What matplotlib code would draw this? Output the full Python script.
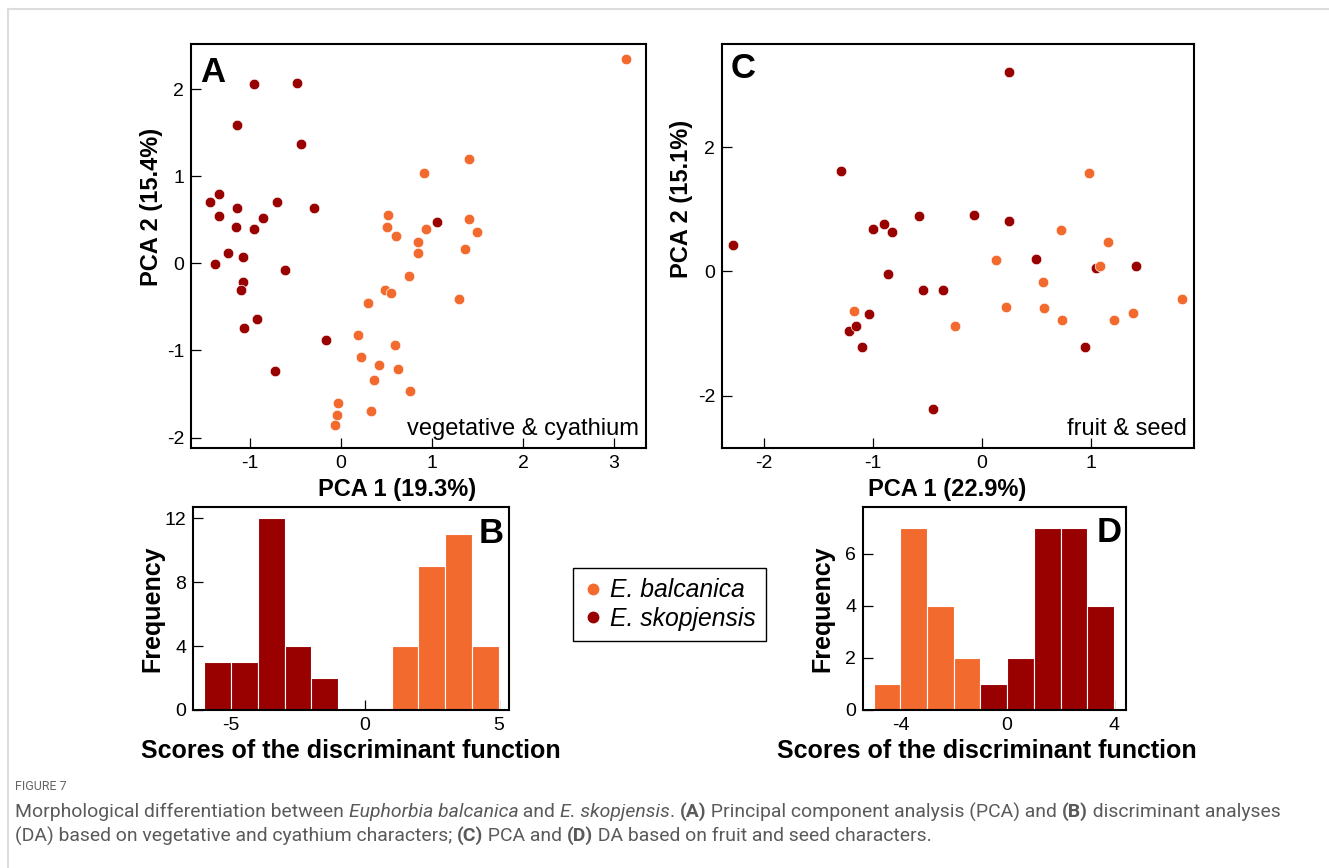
import matplotlib
matplotlib.use('Agg')
import matplotlib.pyplot as plt
from matplotlib.lines import Line2D

plt.rcParams['font.family'] = ['Liberation Sans', 'DejaVu Sans']
plt.rcParams['axes.unicode_minus'] = False

ORANGE = '#F26A2E'
DARKRED = '#990000'

# ---------------- Panel A: PCA vegetative & cyathium ----------------
a_sko_x = [-0.96, -0.48, -1.15, -0.44, -1.44, -1.34, -1.34, -1.15, -0.71, -0.30,
           -1.16, -0.96, -0.86, 1.05, -1.24, -1.08, -1.39, -0.62, -1.08, -1.10,
           -0.93, -1.07, -0.17, -0.73]
a_sko_y = [2.06, 2.07, 1.59, 1.37, 0.71, 0.80, 0.54, 0.64, 0.70, 0.64,
           0.42, 0.39, 0.52, 0.48, 0.12, 0.07, -0.01, -0.07, -0.21, -0.31,
           -0.64, -0.74, -0.88, -1.23]
a_bal_x = [3.13, 1.41, 0.91, 0.51, 0.50, 0.93, 0.60, 0.84, 0.84, 1.41,
           1.49, 1.36, 0.75, 0.48, 0.55, 0.30, 1.30, 0.19, 0.59, 0.22,
           0.42, 0.63, 0.36, 0.76, -0.04, -0.05, 0.33, -0.07]
a_bal_y = [2.35, 1.20, 1.04, 0.56, 0.42, 0.40, 0.31, 0.25, 0.12, 0.51,
           0.36, 0.16, -0.14, -0.30, -0.34, -0.45, -0.41, -0.82, -0.94, -1.08,
           -1.17, -1.21, -1.34, -1.46, -1.60, -1.74, -1.70, -1.86]

# ---------------- Panel C: PCA fruit & seed ----------------
c_sko_x = [0.25, -1.29, -2.28, -1.00, -0.90, -0.82, -0.58, -0.07, 0.25, -0.86,
           0.49, 1.04, 1.41, -0.54, -0.36, -1.03, -1.22, -1.15, -1.10, 0.94, -0.45]
c_sko_y = [3.21, 1.62, 0.43, 0.69, 0.76, 0.63, 0.90, 0.91, 0.82, -0.04,
           0.20, 0.05, 0.09, -0.29, -0.29, -0.69, -0.95, -0.88, -1.21, -1.22, -2.22]
c_bal_x = [0.98, 0.72, 1.15, 0.13, 1.08, 0.56, 0.22, 0.57, 0.73, 1.21,
           1.38, 1.83, -1.17, -0.25]
c_bal_y = [1.58, 0.67, 0.48, 0.18, 0.09, -0.17, -0.57, -0.58, -0.78, -0.78,
           -0.66, -0.45, -0.64, -0.88]

# ---------------- Panel B: DA histogram vegetative & cyathium ----------------
b_sko_edges = [-6, -5, -4, -3, -2]
b_sko_counts = [3, 3, 12, 4, 2]
b_bal_edges = [1, 2, 3, 4]
b_bal_counts = [4, 9, 11, 4]

# ---------------- Panel D: DA histogram fruit & seed ----------------
d_bal_edges = [-5, -4, -3, -2]
d_bal_counts = [1, 7, 4, 2]
d_sko_edges = [-1, 0, 1, 2, 3]
d_sko_counts = [1, 2, 7, 7, 4]

labels = ['E. balcanica', 'E. skopjensis']

W, H = 1329, 868
fig = plt.figure(figsize=(W / 100, H / 100), dpi=100)


def box(l, r, t, b):
    return [l / W, 1 - b / H, (r - l) / W, (b - t) / H]


TICK_FS = 14
LAB_FS = 17
LET_FS = 25


def style(ax):
    for s in ax.spines.values():
        s.set_linewidth(1.5)
    ax.tick_params(direction='in', length=7, width=0.9, labelsize=TICK_FS, pad=5,
                   top=False, right=False)


# Panel A
axA = fig.add_axes(box(191, 646, 44, 448))
axA.scatter(a_sko_x, a_sko_y, s=58, color=DARKRED, edgecolors='white', linewidths=0.5, zorder=3)
axA.scatter(a_bal_x, a_bal_y, s=58, color=ORANGE, edgecolors='white', linewidths=0.5, zorder=3)
axA.set_xlim(-1.65, 3.35)
axA.set_ylim(-2.12, 2.52)
axA.set_xticks([-1, 0, 1, 2, 3])
axA.set_yticks([-2, -1, 0, 1, 2])
style(axA)
axA.set_xlabel('PCA 1 (19.3%)', fontsize=LAB_FS, fontweight='bold')
axA.xaxis.set_label_coords(0.452, -0.074)
axA.set_ylabel('PCA 2 (15.4%)', fontsize=LAB_FS, fontweight='bold')
axA.yaxis.set_label_coords(-0.061, 0.597)
axA.text(0.02, 0.907, 'A', transform=axA.transAxes, fontsize=LET_FS, fontweight='bold',
         ha='left', va='baseline')
axA.text(0.985, 0.032, 'vegetative & cyathium', transform=axA.transAxes, fontsize=17,
         ha='right', va='baseline')

# Panel C
axC = fig.add_axes(box(722, 1194, 44, 448))
axC.scatter(c_sko_x, c_sko_y, s=58, color=DARKRED, edgecolors='white', linewidths=0.5, zorder=3)
axC.scatter(c_bal_x, c_bal_y, s=58, color=ORANGE, edgecolors='white', linewidths=0.5, zorder=3)
axC.set_xlim(-2.38, 1.94)
axC.set_ylim(-2.84, 3.66)
axC.set_xticks([-2, -1, 0, 1])
axC.set_yticks([-2, 0, 2])
style(axC)
axC.set_xlabel('PCA 1 (22.9%)', fontsize=LAB_FS, fontweight='bold')
axC.xaxis.set_label_coords(0.476, -0.074)
axC.set_ylabel('PCA 2 (15.1%)', fontsize=LAB_FS, fontweight='bold')
axC.yaxis.set_label_coords(-0.061, 0.616)
axC.text(0.018, 0.915, 'C', transform=axC.transAxes, fontsize=LET_FS, fontweight='bold',
         ha='left', va='baseline')
axC.text(0.985, 0.032, 'fruit & seed', transform=axC.transAxes, fontsize=17,
         ha='right', va='baseline')

# Panel B
axB = fig.add_axes(box(193, 509, 507, 710))
axB.bar(b_sko_edges, b_sko_counts, width=1, align='edge', color=DARKRED,
        edgecolor='white', linewidth=0.8)
axB.bar(b_bal_edges, b_bal_counts, width=1, align='edge', color=ORANGE,
        edgecolor='white', linewidth=0.8)
axB.set_xlim(-6.42, 5.38)
axB.set_ylim(0, 12.7)
axB.set_xticks([-5, 0, 5])
axB.set_yticks([0, 4, 8, 12])
axB.set_axisbelow(True)
style(axB)
axB.set_xlabel('Scores of the discriminant function', fontsize=18, fontweight='bold')
axB.xaxis.set_label_coords(0.5, -0.142)
axB.set_ylabel('Frequency', fontsize=18, fontweight='bold')
axB.yaxis.set_label_coords(-0.092, 0.5)
axB.text(0.982, 0.824, 'B', transform=axB.transAxes, fontsize=LET_FS, fontweight='bold',
         ha='right', va='baseline')

# Panel D
axD = fig.add_axes(box(863, 1126, 507, 710))
axD.bar(d_bal_edges, d_bal_counts, width=1, align='edge', color=ORANGE,
        edgecolor='white', linewidth=0.8)
axD.bar(d_sko_edges, d_sko_counts, width=1, align='edge', color=DARKRED,
        edgecolor='white', linewidth=0.8)
axD.set_xlim(-5.4, 4.45)
axD.set_ylim(0, 7.8)
axD.set_xticks([-4, 0, 4])
axD.set_yticks([0, 2, 4, 6])
axD.set_axisbelow(True)
style(axD)
axD.set_xlabel('Scores of the discriminant function', fontsize=18, fontweight='bold')
axD.xaxis.set_label_coords(0.47, -0.145)
axD.set_ylabel('Frequency', fontsize=18, fontweight='bold')
axD.yaxis.set_label_coords(-0.110, 0.5)
axD.text(0.984, 0.826, 'D', transform=axD.transAxes, fontsize=LET_FS, fontweight='bold',
         ha='right', va='baseline')

# Legend
handles = [Line2D([], [], marker='o', ls='', color=ORANGE, markersize=7.5),
           Line2D([], [], marker='o', ls='', color=DARKRED, markersize=7.5)]
leg = fig.legend(handles, labels, loc='upper left', bbox_to_anchor=(573 / W, 1 - 568 / H),
                 frameon=True, fancybox=False, edgecolor='black', framealpha=1,
                 prop={'style': 'italic', 'size': 17.8}, borderaxespad=0,
                 handletextpad=0.28, handlelength=0.8, labelspacing=0.18, borderpad=0.42)
leg.get_frame().set_linewidth(1.0)

# Page frame lines
fig.add_artist(Line2D([7.7 / W, 1], [1 - 9 / H, 1 - 9 / H], transform=fig.transFigure,
                      color='#dddddd', lw=1.5))
fig.add_artist(Line2D([7.7 / W, 7.7 / W], [1 - 9 / H, 0], transform=fig.transFigure,
                      color='#dddddd', lw=1.5))

# Caption
CAP_FAM = ['Liberation Sans Narrow', 'Roboto', 'DejaVu Sans']
CAP_COL = '#5a5a5a'
fig.text(15 / W, 1 - 787 / H, 'FIGURE 7', fontsize=9, color='#666666', va='center',
         family=CAP_FAM)

line1 = [('Morphological differentiation between ', 'normal', 'normal'),
         ('Euphorbia balcanica', 'italic', 'normal'),
         (' and ', 'normal', 'normal'),
         ('E. skopjensis', 'italic', 'normal'),
         ('. ', 'normal', 'normal'),
         ('(A)', 'normal', 'bold'),
         (' Principal component analysis (PCA) and ', 'normal', 'normal'),
         ('(B)', 'normal', 'bold'),
         (' discriminant analyses', 'normal', 'normal')]
line2 = [('(DA) based on vegetative and cyathium characters; ', 'normal', 'normal'),
         ('(C)', 'normal', 'bold'),
         (' PCA and ', 'normal', 'normal'),
         ('(D)', 'normal', 'bold'),
         (' DA based on fruit and seed characters.', 'normal', 'normal')]

renderer = fig.canvas.get_renderer()


def draw_line(parts, x0, y0, fs, measure_only=False):
    x = x0
    arts = []
    for txt, st, wt in parts:
        t = fig.text(x / W, 1 - y0 / H, txt, fontsize=fs, color=CAP_COL, style=st,
                     fontweight=wt, va='center', ha='left', family=CAP_FAM)
        bb = t.get_window_extent(renderer=renderer)
        x += bb.width
        arts.append(t)
    if measure_only:
        for a in arts:
            a.remove()
    return x - x0


base = 12.0
wmeas = draw_line(line1, 15, 812, base, measure_only=True)
cap_fs = base * 1261.0 / wmeas
draw_line(line1, 15, 812, cap_fs)
draw_line(line2, 15, 836, cap_fs)

fig.savefig('out.png', dpi=100)
